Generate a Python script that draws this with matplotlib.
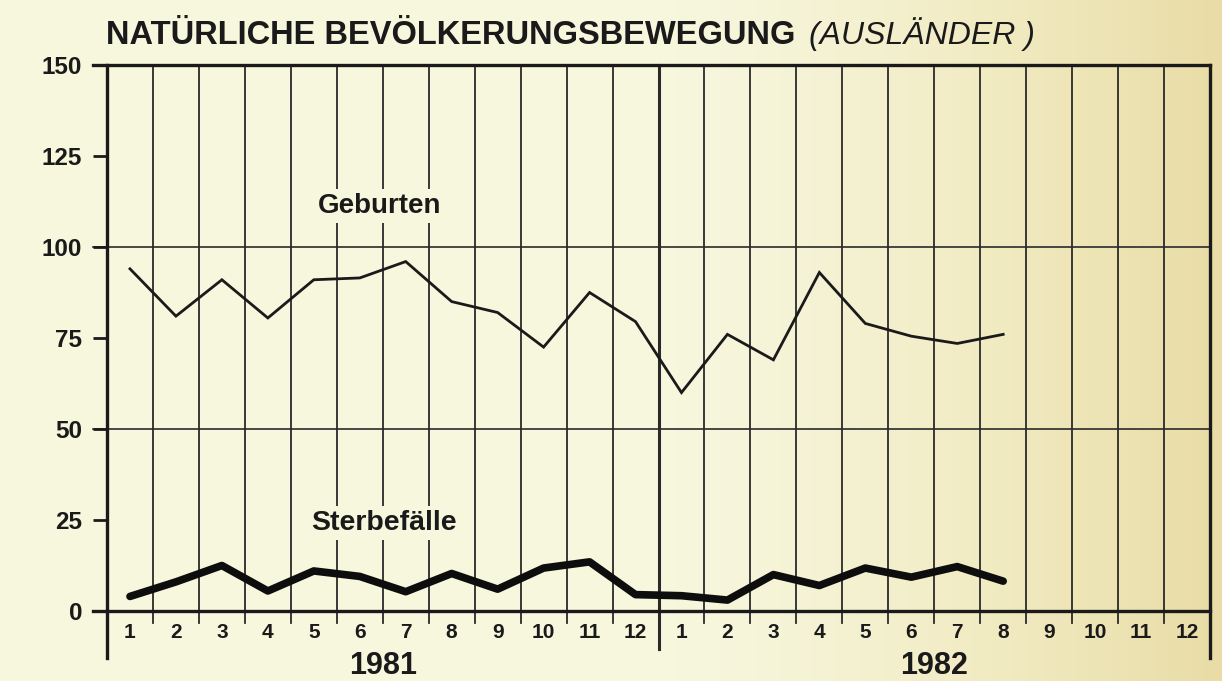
import numpy as np
import matplotlib
matplotlib.use("Agg")
import matplotlib.pyplot as plt
from matplotlib.colors import LinearSegmentedColormap

# ---- data ----
months = list(range(1, 13)) + list(range(1, 13))
years = ["1981", "1982"]
geburten = [94, 81, 91, 80.5, 91, 91.5, 96, 85, 82, 72.5, 87.5, 79.5,
            60, 76, 69, 93, 79, 75.5, 73.5, 76]
sterbefaelle = [4, 8, 12.5, 5.5, 11, 9.5, 5.3, 10.3, 6, 11.8, 13.5, 4.5,
                4.2, 3, 10, 7, 11.8, 9.3, 12.2, 8.2]
yticks = [0, 25, 50, 75, 100, 125, 150]
grid_y = [50, 100]

W, H = 1222, 681
fig = plt.figure(figsize=(W / 100, H / 100), dpi=100)

# background gradient (cream -> tan on the right)
bg = fig.add_axes([0, 0, 1, 1], zorder=-10)
bg.axis("off")
grad = np.linspace(0, 1, 400)
grad = np.clip((grad - 0.55) / 0.45, 0, 1) ** 1.3
cmap = LinearSegmentedColormap.from_list("bg", ["#f7f7de", "#f1ebc2", "#e9dca6"])
bg.imshow(np.tile(grad, (10, 1)), aspect="auto", cmap=cmap, extent=[0, 1, 0, 1])

left, right = 107 / W, 1210 / W
bottom, top = 1 - 611 / H, 1 - 65 / H
ax = fig.add_axes([left, bottom, right - left, top - bottom])
ax.set_facecolor("none")
for s in ax.spines.values():
    s.set_visible(False)

n = len(months)
ax.set_xlim(0, n)
ax.set_ylim(0, 150)

FONT = "Liberation Sans"
ink = "#1a1a1a"

# vertical month separators
for k in range(1, n):
    lw = 2.2 if k == 12 else 1.3
    ymin = -0.07 if k == 12 else -0.022
    ax.axvline(k, ymin=ymin, ymax=1, color="#2a2a2a", lw=lw, clip_on=False, zorder=1)
# left and right borders
ax.axvline(0, ymin=-0.086, ymax=1, color=ink, lw=2.4, clip_on=False, zorder=3)
ax.axvline(n, ymin=-0.086, ymax=1, color=ink, lw=2.4, clip_on=False, zorder=3)

# horizontal grid lines
for yv in grid_y:
    ax.plot([-0.31, n], [yv, yv], color="#2a2a2a", lw=1.2, clip_on=False, zorder=1)
ax.plot([-0.31, n], [150, 150], color=ink, lw=2.4, clip_on=False, zorder=3)
ax.plot([-0.31, n], [0, 0], color=ink, lw=2.4, clip_on=False, zorder=3)

# y ticks
ax.set_yticks(yticks)
ax.set_yticklabels([str(v) for v in yticks], fontfamily=FONT, fontweight="bold",
                   fontsize=17.5, color=ink)
ax.tick_params(axis="y", length=10, width=2, color=ink, pad=8)

# x ticks (month labels centred in each month)
ax.set_xticks(np.arange(n) + 0.5)
ax.set_xticklabels([str(m) for m in months], fontfamily=FONT, fontweight="bold",
                   fontsize=15, color=ink)
ax.tick_params(axis="x", length=0, pad=9)

# year labels
for i, yr in enumerate(years):
    ax.text(6 + 12 * i, -0.1, yr, transform=ax.get_xaxis_transform(),
            ha="center", va="center", fontfamily=FONT, fontweight="bold",
            fontsize=22, color=ink)

x = np.arange(len(geburten)) + 0.5
ax.plot(x, geburten, color=ink, lw=2.0, zorder=4, solid_joinstyle="miter")
ax.plot(x[:len(sterbefaelle)], sterbefaelle, color="#0d0d0d", lw=5.5, zorder=4,
        solid_joinstyle="round", solid_capstyle="round")

bgc = "#f7f7de"
ax.text(5.93, 109.3, "Geburten", ha="center", va="baseline", fontfamily=FONT,
        fontweight="bold", fontsize=20, color=ink, zorder=5,
        bbox=dict(facecolor=bgc, edgecolor="none", pad=3))
ax.text(6.02, 22.3, "Sterbefälle", ha="center", va="baseline", fontfamily=FONT,
        fontweight="bold", fontsize=20.5, color=ink, zorder=5,
        bbox=dict(facecolor=bgc, edgecolor="none", pad=3))

# title
t1 = fig.text(106 / W, 1 - 44 / H, "NATÜRLICHE BEVÖLKERUNGSBEWEGUNG", ha="left",
              va="baseline", fontfamily=FONT, fontweight="bold", fontsize=23.5, color=ink)
fig.canvas.draw()
bb = t1.get_window_extent()
fig.text((bb.x1 + 14) / W, 1 - 44 / H, "(AUSLÄNDER )", ha="left", va="baseline",
         fontfamily=FONT, fontstyle="italic", fontsize=23, color=ink)

fig.savefig("out.png", dpi=100)
